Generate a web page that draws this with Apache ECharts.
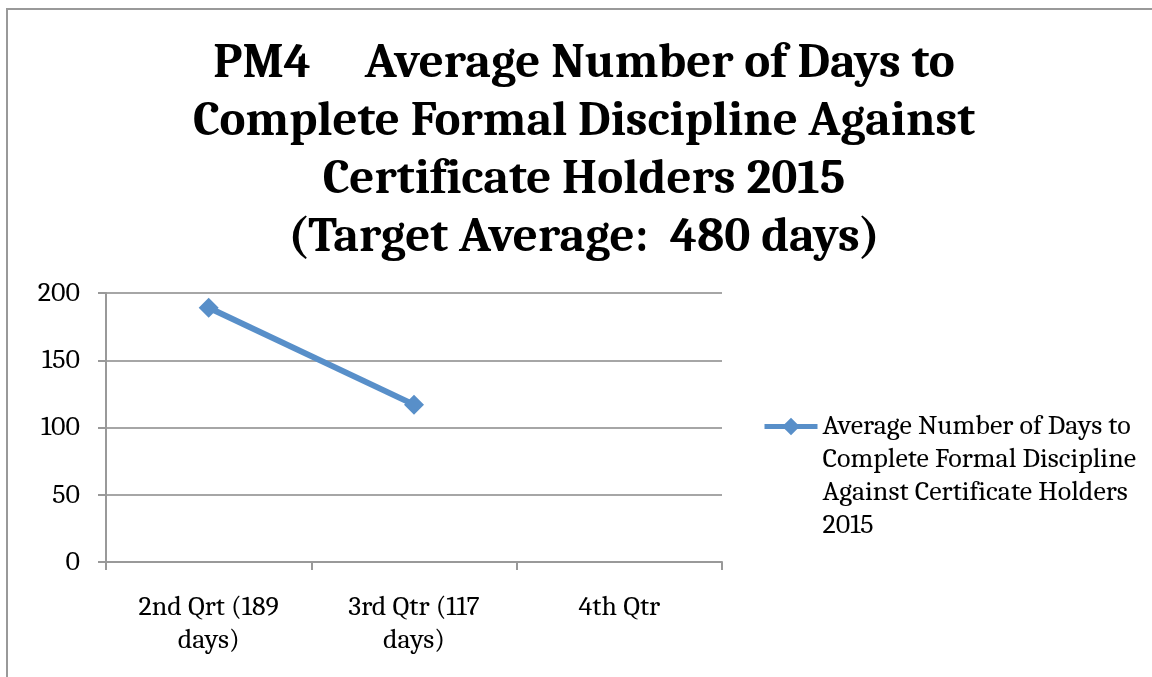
<!DOCTYPE html>
<html>
<head>
<meta charset="utf-8">
<script src="https://cdn.jsdelivr.net/npm/echarts@6/dist/echarts.min.js"></script>
<style>
  html, body { margin: 0; padding: 0; background: #fff; }
  #main { width: 1152px; height: 677px; }
</style>
</head>
<body>
<div id="main"></div>
<script>
var chartDom = document.getElementById('main');
var myChart = echarts.init(chartDom);

// data
var quarters = ['2nd Qrt (189 days)', '3rd Qtr (117 days)', '4th Qtr'];
var avgDays = [189, 117, null];
var seriesName = 'Average Number of Days to Complete Formal Discipline Against Certificate Holders 2015';
var legendLines = ['Average Number of Days to', 'Complete Formal Discipline', 'Against Certificate Holders', '2015'];
var titleLines = ['PM4     Average Number of Days to', 'Complete Formal Discipline Against', 'Certificate Holders 2015', '(Target Average:  480 days)'];

var serif = 'Cambria, Caladea, "Liberation Serif", "DejaVu Serif", serif';
var blue = '#588fc9';

var option = {
  animation: false,
  title: {
    text: titleLines.join('\n'),
    left: 579,
    top: 29,
    textAlign: 'center',
    textStyle: {
      fontFamily: serif,
      fontWeight: 'bold',
      fontSize: 49,
      lineHeight: 58,
      color: '#000'
    }
  },
  graphic: [{
    type: 'rect',
    shape: { x: 7, y: 9, width: 1200, height: 700 },
    style: { fill: 'none', stroke: '#999', lineWidth: 2 },
    silent: true
  }],
  legend: {
    orient: 'vertical',
    left: 757,
    top: 306,
    itemWidth: 53,
    itemHeight: 22,
    itemGap: 0,
    data: [seriesName],
    lineStyle: { width: 5 },
    // blank lines on top keep the marker level with the first line of text
    formatter: function () {
      return '\n\n\n' + legendLines.join('\n');
    },
    textStyle: {
      fontFamily: serif,
      fontSize: 28,
      lineHeight: 33,
      color: '#000'
    }
  },
  grid: {
    left: 106,
    right: 430,
    top: 293,
    bottom: 115,
    containLabel: false
  },
  xAxis: {
    type: 'category',
    data: quarters,
    boundaryGap: true,
    axisLine: { lineStyle: { color: '#999', width: 2 } },
    axisTick: { show: true, length: 8, lineStyle: { color: '#999', width: 2 } },
    axisLabel: {
      interval: 0,
      margin: 29,
      fontFamily: serif,
      fontSize: 28,
      lineHeight: 33,
      color: '#000',
      formatter: function (v) { return v.replace(' days)', '\ndays)'); }
    }
  },
  yAxis: {
    type: 'value',
    min: 0,
    max: 200,
    interval: 50,
    axisLine: { show: true, lineStyle: { color: '#999', width: 2 } },
    axisTick: { show: true, length: 8, lineStyle: { color: '#999', width: 2 } },
    splitLine: { lineStyle: { color: '#a6a6a6', width: 2 } },
    axisLabel: {
      margin: 26,
      fontFamily: serif,
      fontSize: 28,
      color: '#000'
    }
  },
  series: [{
    name: seriesName,
    type: 'line',
    data: avgDays,
    symbol: 'diamond',
    symbolSize: 20,
    lineStyle: { color: blue, width: 6 },
    itemStyle: { color: blue },
    connectNulls: false
  }]
};

myChart.setOption(option);
</script>
</body>
</html>
